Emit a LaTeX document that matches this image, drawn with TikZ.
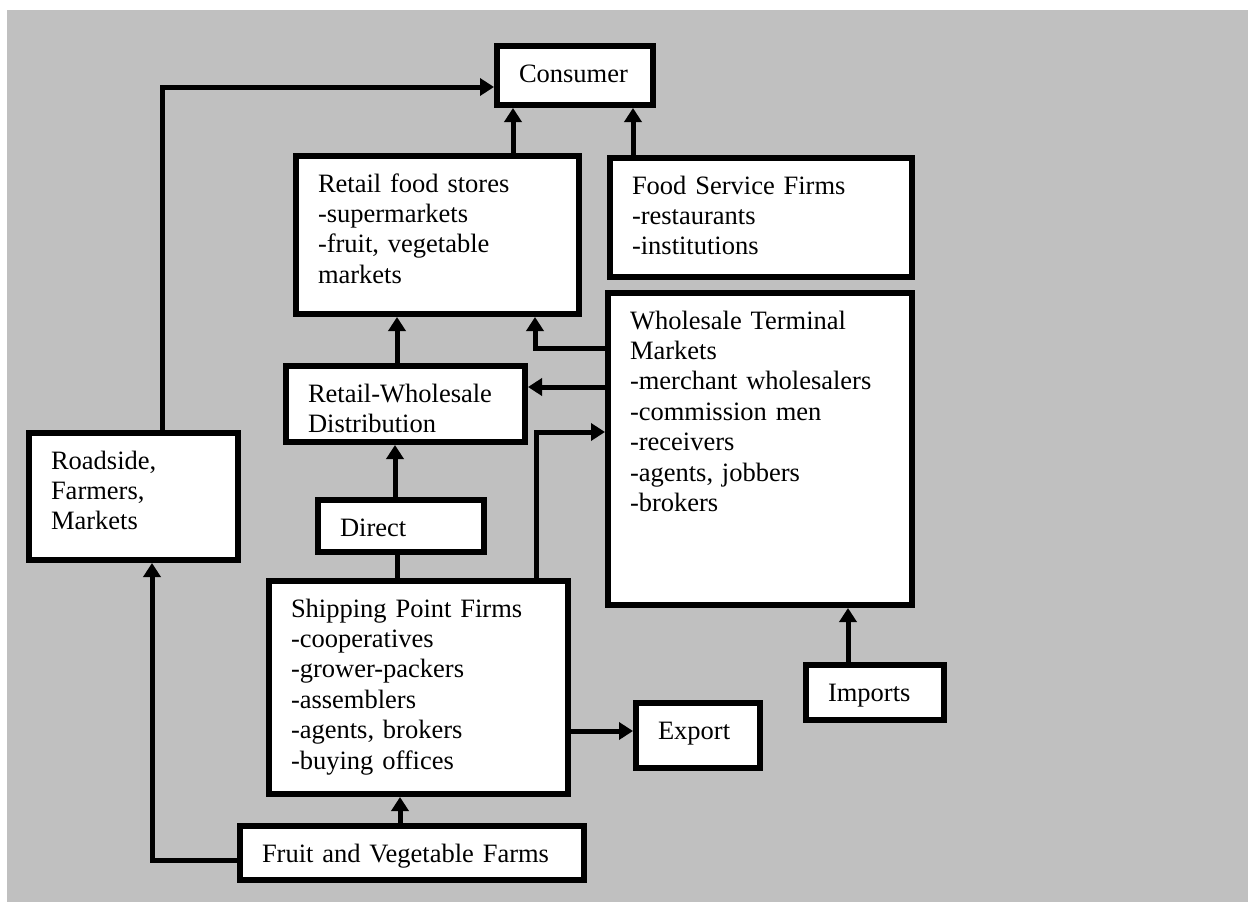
\documentclass[tikz,border=0pt]{standalone}
\usepackage{fontspec}
\setmainfont{Liberation Serif}
\usetikzlibrary{arrows.meta}
\definecolor{bgGray}{HTML}{C0C0C0}
\newcommand{\chainfont}{\fontsize{26.5}{30.4}\selectfont}
\tikzset{
    stage/.style={rectangle, draw=black, fill=white, line width=6pt, align=left, inner xsep=22pt, inner ysep=0pt, text height=36pt, anchor=north west, font=\chainfont},
    flow/.style={-{Triangle[width=17pt, length=14pt]}, line width=5pt},
    link/.style={line width=5pt},
}
\begin{document}
\begin{tikzpicture}[x=1pt, y=-1pt]
    % Background
    \useasboundingbox (0,0) rectangle (1248,902);
    \fill[bgGray] (7,10) rectangle (1248,902);

    % Nodes
    \node[stage, text width=112pt, text depth=23pt] (consumer) at (494,43) {Consumer};
    \node[stage, text width=239pt, text depth=122pt] (retail) at (293,153) {Retail food stores\\-supermarkets\\-fruit, vegetable\\markets};
    \node[stage, text width=258pt, text depth=83pt] (foodsvc) at (607,155) {Food Service Firms\\-restaurants\\-institutions};
    \node[stage, text width=260pt, text depth=276pt] (wholesale) at (605,290) {Wholesale Terminal\\Markets\\-merchant wholesalers\\-commission men\\-receivers\\-agents, jobbers\\-brokers};
    \node[stage, text width=195pt, text depth=40pt] (retwhole) at (283,363) {Retail-Wholesale\\Distribution};
    \node[stage, text width=165pt, text depth=91pt] (roadside) at (26,430) {Roadside,\\Farmers,\\Markets};
    \node[stage, text width=122pt, text depth=16pt] (direct) at (315,497) {Direct};
    \node[stage, text width=255pt, text depth=177pt] (shipping) at (266,578) {Shipping Point Firms\\-cooperatives\\-grower-packers\\-assemblers\\-agents, brokers\\-buying offices};
    \node[stage, text width=300pt, text depth=18pt] (farms) at (237,823) {Fruit and Vegetable Farms};
    \node[stage, text width=80pt, text depth=29pt] (export) at (633,700) {Export};
    \node[stage, text width=94pt, text depth=19pt] (imports) at (803,662) {Imports};

    % Edges
    \draw[flow] ([xshift=28.5pt]roadside.north) |- ([yshift=-11.5pt]consumer.west);
    \draw[flow] ([xshift=75.5pt]retail.north) -- ([xshift=75.5pt]retail.north |- consumer.south);
    \draw[flow] ([xshift=-128pt]foodsvc.north) -- ([xshift=-128pt]foodsvc.north |- consumer.south);
    \draw[flow] ([xshift=-8.5pt]retwhole.north) -- ([xshift=-8.5pt]retwhole.north |- retail.south);
    \draw[flow] ([yshift=101pt]wholesale.west) -| ([xshift=97.5pt]retail.south);
    \draw[flow] ([yshift=62pt]wholesale.west) -- ([yshift=62pt]wholesale.west -| retwhole.east);
    \draw[flow] ([xshift=117.5pt]shipping.north) |- ([yshift=17pt]wholesale.west);
    \draw[flow] ([xshift=-6pt]direct.north) -- ([xshift=-6pt]direct.north |- retwhole.south);
    \draw[link] ([xshift=-4pt]direct.south) -- ([xshift=-4pt]direct.south |- shipping.north);
    \draw[flow] ([yshift=-43.5pt]shipping.east) -- ([yshift=-43.5pt]shipping.east -| export.west);
    \draw[flow] ([xshift=-27pt]imports.north) -- ([xshift=-27pt]imports.north |- wholesale.south);
    \draw[flow] ([xshift=-12pt]farms.north) -- ([xshift=-12pt]farms.north |- shipping.south);
    \draw[flow] ([yshift=-7pt]farms.west) -| ([xshift=18.5pt]roadside.south);
\end{tikzpicture}
\end{document}
